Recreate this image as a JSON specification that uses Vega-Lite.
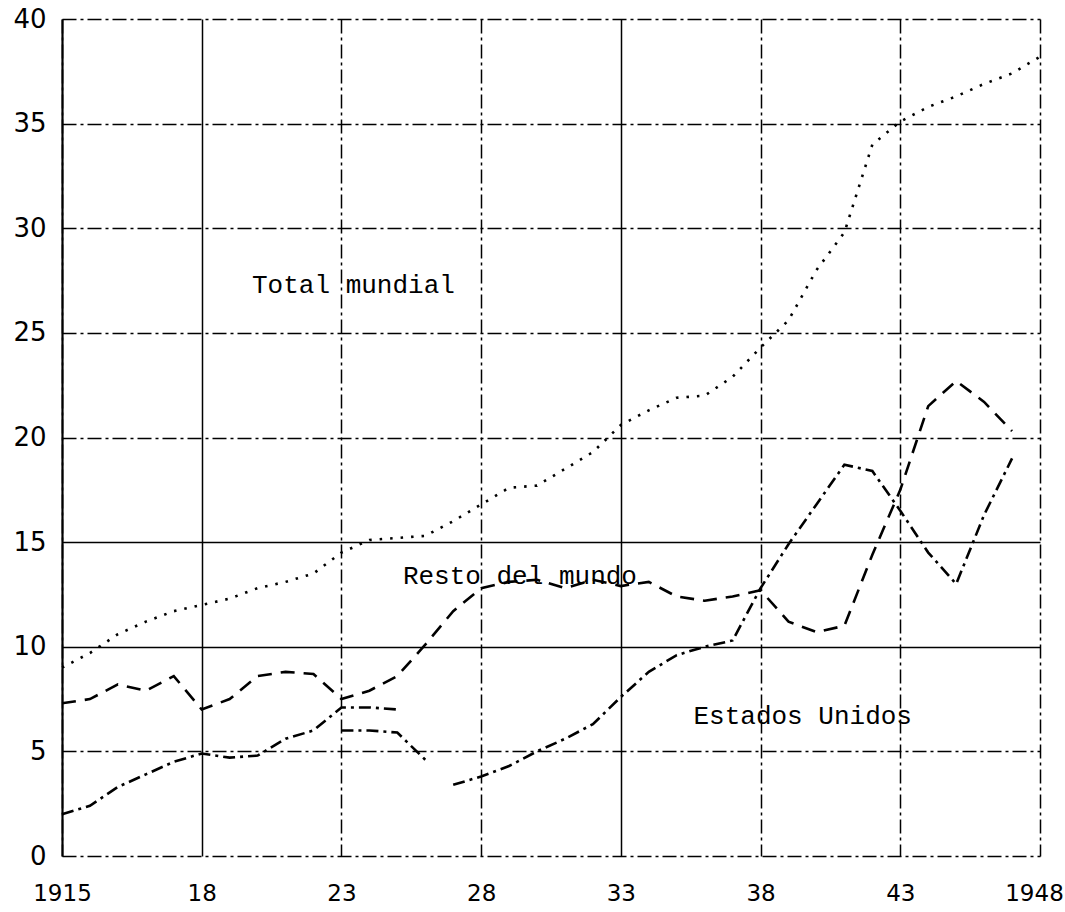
{
  "$schema": "https://vega.github.io/schema/vega-lite/v6.json",
  "width": 978,
  "height": 837,
  "autosize": {"type": "none"},
  "padding": {"left": 62, "top": 19, "right": 25, "bottom": 56},
  "background": "white",
  "config": {"view": {"stroke": null}},
  "datasets": {
    "series": [
      {"serie": "Total mundial", "tramo": "T", "anio": 1913, "valor": 9.0},
      {"serie": "Total mundial", "tramo": "T", "anio": 1914, "valor": 9.7},
      {"serie": "Total mundial", "tramo": "T", "anio": 1915, "valor": 10.6},
      {"serie": "Total mundial", "tramo": "T", "anio": 1916, "valor": 11.2},
      {"serie": "Total mundial", "tramo": "T", "anio": 1917, "valor": 11.7},
      {"serie": "Total mundial", "tramo": "T", "anio": 1918, "valor": 12.0},
      {"serie": "Total mundial", "tramo": "T", "anio": 1919, "valor": 12.3},
      {"serie": "Total mundial", "tramo": "T", "anio": 1920, "valor": 12.8},
      {"serie": "Total mundial", "tramo": "T", "anio": 1921, "valor": 13.1},
      {"serie": "Total mundial", "tramo": "T", "anio": 1922, "valor": 13.5},
      {"serie": "Total mundial", "tramo": "T", "anio": 1923, "valor": 14.5},
      {"serie": "Total mundial", "tramo": "T", "anio": 1924, "valor": 15.1},
      {"serie": "Total mundial", "tramo": "T", "anio": 1925, "valor": 15.2},
      {"serie": "Total mundial", "tramo": "T", "anio": 1926, "valor": 15.3},
      {"serie": "Total mundial", "tramo": "T", "anio": 1927, "valor": 16.0},
      {"serie": "Total mundial", "tramo": "T", "anio": 1928, "valor": 16.8},
      {"serie": "Total mundial", "tramo": "T", "anio": 1929, "valor": 17.6},
      {"serie": "Total mundial", "tramo": "T", "anio": 1930, "valor": 17.7},
      {"serie": "Total mundial", "tramo": "T", "anio": 1931, "valor": 18.5},
      {"serie": "Total mundial", "tramo": "T", "anio": 1932, "valor": 19.3},
      {"serie": "Total mundial", "tramo": "T", "anio": 1933, "valor": 20.6},
      {"serie": "Total mundial", "tramo": "T", "anio": 1934, "valor": 21.3},
      {"serie": "Total mundial", "tramo": "T", "anio": 1935, "valor": 21.9},
      {"serie": "Total mundial", "tramo": "T", "anio": 1936, "valor": 22.0},
      {"serie": "Total mundial", "tramo": "T", "anio": 1937, "valor": 22.9},
      {"serie": "Total mundial", "tramo": "T", "anio": 1938, "valor": 24.3},
      {"serie": "Total mundial", "tramo": "T", "anio": 1939, "valor": 25.6},
      {"serie": "Total mundial", "tramo": "T", "anio": 1940, "valor": 28.0},
      {"serie": "Total mundial", "tramo": "T", "anio": 1941, "valor": 29.8},
      {"serie": "Total mundial", "tramo": "T", "anio": 1942, "valor": 34.0},
      {"serie": "Total mundial", "tramo": "T", "anio": 1943, "valor": 35.1},
      {"serie": "Total mundial", "tramo": "T", "anio": 1944, "valor": 35.8},
      {"serie": "Total mundial", "tramo": "T", "anio": 1945, "valor": 36.3},
      {"serie": "Total mundial", "tramo": "T", "anio": 1946, "valor": 36.9},
      {"serie": "Total mundial", "tramo": "T", "anio": 1947, "valor": 37.4},
      {"serie": "Total mundial", "tramo": "T", "anio": 1948, "valor": 38.2},

      {"serie": "Resto del mundo", "tramo": "R", "anio": 1913, "valor": 7.3},
      {"serie": "Resto del mundo", "tramo": "R", "anio": 1914, "valor": 7.5},
      {"serie": "Resto del mundo", "tramo": "R", "anio": 1915, "valor": 8.2},
      {"serie": "Resto del mundo", "tramo": "R", "anio": 1916, "valor": 7.9},
      {"serie": "Resto del mundo", "tramo": "R", "anio": 1917, "valor": 8.6},
      {"serie": "Resto del mundo", "tramo": "R", "anio": 1918, "valor": 7.0},
      {"serie": "Resto del mundo", "tramo": "R", "anio": 1919, "valor": 7.5},
      {"serie": "Resto del mundo", "tramo": "R", "anio": 1920, "valor": 8.6},
      {"serie": "Resto del mundo", "tramo": "R", "anio": 1921, "valor": 8.8},
      {"serie": "Resto del mundo", "tramo": "R", "anio": 1922, "valor": 8.7},
      {"serie": "Resto del mundo", "tramo": "R", "anio": 1923, "valor": 7.5},
      {"serie": "Resto del mundo", "tramo": "R", "anio": 1924, "valor": 7.9},
      {"serie": "Resto del mundo", "tramo": "R", "anio": 1925, "valor": 8.6},
      {"serie": "Resto del mundo", "tramo": "R", "anio": 1926, "valor": 10.1},
      {"serie": "Resto del mundo", "tramo": "R", "anio": 1927, "valor": 11.7},
      {"serie": "Resto del mundo", "tramo": "R", "anio": 1928, "valor": 12.8},
      {"serie": "Resto del mundo", "tramo": "R", "anio": 1929, "valor": 13.1},
      {"serie": "Resto del mundo", "tramo": "R", "anio": 1930, "valor": 13.2},
      {"serie": "Resto del mundo", "tramo": "R", "anio": 1931, "valor": 12.8},
      {"serie": "Resto del mundo", "tramo": "R", "anio": 1932, "valor": 13.2},
      {"serie": "Resto del mundo", "tramo": "R", "anio": 1933, "valor": 12.9},
      {"serie": "Resto del mundo", "tramo": "R", "anio": 1934, "valor": 13.1},
      {"serie": "Resto del mundo", "tramo": "R", "anio": 1935, "valor": 12.4},
      {"serie": "Resto del mundo", "tramo": "R", "anio": 1936, "valor": 12.2},
      {"serie": "Resto del mundo", "tramo": "R", "anio": 1937, "valor": 12.4},
      {"serie": "Resto del mundo", "tramo": "R", "anio": 1938, "valor": 12.7},
      {"serie": "Resto del mundo", "tramo": "R", "anio": 1939, "valor": 11.2},
      {"serie": "Resto del mundo", "tramo": "R", "anio": 1940, "valor": 10.7},
      {"serie": "Resto del mundo", "tramo": "R", "anio": 1941, "valor": 11.0},
      {"serie": "Resto del mundo", "tramo": "R", "anio": 1942, "valor": 14.4},
      {"serie": "Resto del mundo", "tramo": "R", "anio": 1943, "valor": 17.5},
      {"serie": "Resto del mundo", "tramo": "R", "anio": 1944, "valor": 21.5},
      {"serie": "Resto del mundo", "tramo": "R", "anio": 1945, "valor": 22.7},
      {"serie": "Resto del mundo", "tramo": "R", "anio": 1946, "valor": 21.7},
      {"serie": "Resto del mundo", "tramo": "R", "anio": 1947, "valor": 20.3},

      {"serie": "Estados Unidos", "tramo": "U1", "anio": 1913, "valor": 2.0},
      {"serie": "Estados Unidos", "tramo": "U1", "anio": 1914, "valor": 2.4},
      {"serie": "Estados Unidos", "tramo": "U1", "anio": 1915, "valor": 3.3},
      {"serie": "Estados Unidos", "tramo": "U1", "anio": 1916, "valor": 3.9},
      {"serie": "Estados Unidos", "tramo": "U1", "anio": 1917, "valor": 4.5},
      {"serie": "Estados Unidos", "tramo": "U1", "anio": 1918, "valor": 4.9},
      {"serie": "Estados Unidos", "tramo": "U1", "anio": 1919, "valor": 4.7},
      {"serie": "Estados Unidos", "tramo": "U1", "anio": 1920, "valor": 4.8},
      {"serie": "Estados Unidos", "tramo": "U1", "anio": 1921, "valor": 5.6},
      {"serie": "Estados Unidos", "tramo": "U1", "anio": 1922, "valor": 6.0},
      {"serie": "Estados Unidos", "tramo": "U1", "anio": 1923, "valor": 7.1},
      {"serie": "Estados Unidos", "tramo": "U1", "anio": 1924, "valor": 7.1},
      {"serie": "Estados Unidos", "tramo": "U1", "anio": 1925, "valor": 7.0},

      {"serie": "Estados Unidos", "tramo": "U2", "anio": 1923, "valor": 6.0},
      {"serie": "Estados Unidos", "tramo": "U2", "anio": 1924, "valor": 6.0},
      {"serie": "Estados Unidos", "tramo": "U2", "anio": 1925, "valor": 5.9},
      {"serie": "Estados Unidos", "tramo": "U2", "anio": 1926, "valor": 4.6},

      {"serie": "Estados Unidos", "tramo": "U3", "anio": 1927, "valor": 3.4},
      {"serie": "Estados Unidos", "tramo": "U3", "anio": 1928, "valor": 3.8},
      {"serie": "Estados Unidos", "tramo": "U3", "anio": 1929, "valor": 4.3},
      {"serie": "Estados Unidos", "tramo": "U3", "anio": 1930, "valor": 5.0},
      {"serie": "Estados Unidos", "tramo": "U3", "anio": 1931, "valor": 5.6},
      {"serie": "Estados Unidos", "tramo": "U3", "anio": 1932, "valor": 6.3},
      {"serie": "Estados Unidos", "tramo": "U3", "anio": 1933, "valor": 7.6},
      {"serie": "Estados Unidos", "tramo": "U3", "anio": 1934, "valor": 8.8},
      {"serie": "Estados Unidos", "tramo": "U3", "anio": 1935, "valor": 9.6},
      {"serie": "Estados Unidos", "tramo": "U3", "anio": 1936, "valor": 10.0},
      {"serie": "Estados Unidos", "tramo": "U3", "anio": 1937, "valor": 10.3},
      {"serie": "Estados Unidos", "tramo": "U3", "anio": 1938, "valor": 12.8},
      {"serie": "Estados Unidos", "tramo": "U3", "anio": 1939, "valor": 14.9},
      {"serie": "Estados Unidos", "tramo": "U3", "anio": 1940, "valor": 16.8},
      {"serie": "Estados Unidos", "tramo": "U3", "anio": 1941, "valor": 18.7},
      {"serie": "Estados Unidos", "tramo": "U3", "anio": 1942, "valor": 18.4},
      {"serie": "Estados Unidos", "tramo": "U3", "anio": 1943, "valor": 16.5},
      {"serie": "Estados Unidos", "tramo": "U3", "anio": 1944, "valor": 14.5},
      {"serie": "Estados Unidos", "tramo": "U3", "anio": 1945, "valor": 13.0},
      {"serie": "Estados Unidos", "tramo": "U3", "anio": 1946, "valor": 16.3},
      {"serie": "Estados Unidos", "tramo": "U3", "anio": 1947, "valor": 19.0}
    ],
    "rotulos": [
      {"texto": "Total mundial", "anio": 1919.8, "valor": 27.3},
      {"texto": "Resto del mundo", "anio": 1925.2, "valor": 13.4},
      {"texto": "Estados Unidos", "anio": 1935.6, "valor": 6.7}
    ]
  },
  "encoding": {
    "x": {
      "field": "anio",
      "type": "quantitative",
      "scale": {"domain": [1913, 1948], "nice": false, "zero": false},
      "axis": {
        "title": null,
        "values": [1913, 1918, 1923, 1928, 1933, 1938, 1943, 1948],
        "labelExpr": "datum.value == 1913 ? '1915' : (datum.value == 1948 ? '1948' : substring(toString(datum.value), 2))",
        "domain": false,
        "ticks": false,
        "grid": true,
        "gridColor": "black",
        "gridWidth": 1.5,
        "gridOpacity": 1,
        "gridDash": {"condition": {"test": "datum.value == 1918 || datum.value == 1933", "value": []}, "value": [14, 4, 3, 4]},
        "labelPadding": 26,
        "labelFontSize": 23,
        "labelFont": "DejaVu Sans",
        "labelColor": "black",
        "labelFlush": false,
        "labelOffset": {"condition": {"test": "datum.value == 1948", "value": -6}, "value": 0}
      }
    },
    "y": {
      "field": "valor",
      "type": "quantitative",
      "scale": {"domain": [0, 40], "nice": false},
      "axis": {
        "title": null,
        "values": [0, 5, 10, 15, 20, 25, 30, 35, 40],
        "domain": true,
        "domainColor": "black",
        "domainWidth": 2.2,
        "ticks": false,
        "grid": true,
        "gridColor": "black",
        "gridWidth": 1.5,
        "gridOpacity": 1,
        "gridDash": {"condition": {"test": "datum.value == 10 || datum.value == 15", "value": []}, "value": [14, 4, 3, 4]},
        "labelPadding": 16,
        "labelFontSize": 26,
        "labelFont": "DejaVu Sans",
        "labelColor": "black"
      }
    }
  },
  "layer": [
    {
      "data": {"name": "series"},
      "mark": {"type": "line", "color": "black", "strokeWidth": 2.6},
      "encoding": {
        "strokeDash": {
          "field": "serie",
          "type": "nominal",
          "scale": {"domain": ["Total mundial", "Resto del mundo", "Estados Unidos"], "range": [[2.5, 8], [14, 9], [12, 5, 3, 5]]},
          "legend": null
        },
        "detail": {"field": "tramo", "type": "nominal"},
        "order": {"field": "anio", "type": "quantitative"}
      }
    },
    {
      "data": {"name": "rotulos"},
      "mark": {"type": "text", "align": "left", "baseline": "middle", "font": "Liberation Mono", "fontSize": 26, "color": "black"},
      "encoding": {
        "text": {"field": "texto", "type": "nominal"}
      }
    }
  ]
}
